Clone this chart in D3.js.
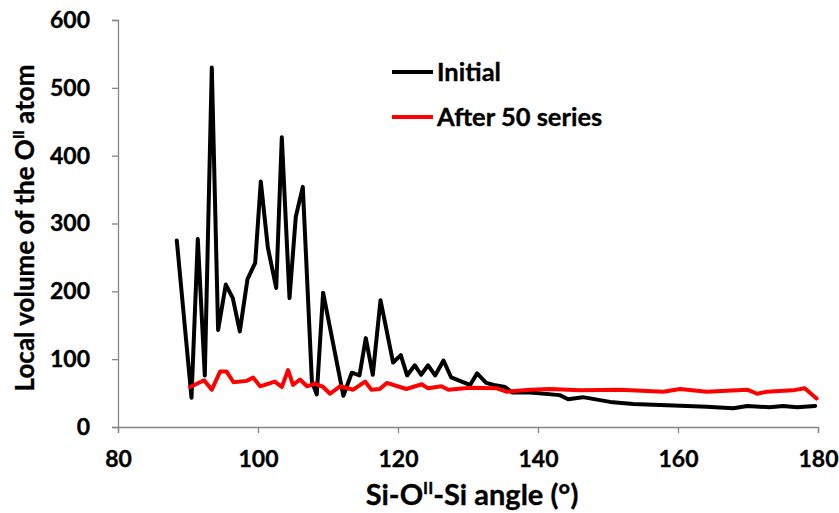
<!DOCTYPE html>
<html>
<head>
<meta charset="utf-8">
<script src="https://cdn.jsdelivr.net/npm/d3@7"></script>
<style>
  html, body { margin: 0; padding: 0; background: #fff; }
  svg text { font-family: Lato, "Open Sans", sans-serif; font-weight: bold; fill: #000; stroke: #000; stroke-width: 0.35px; }
</style>
</head>
<body>
<svg id="chart" width="839" height="513"></svg>
<script>
// Data
const initialAngle = [88.4, 90.5, 91.4, 92.4, 93.4, 94.3, 95.4, 96.4, 97.4, 98.5, 99.6, 100.4, 101.4, 102.6, 103.4, 104.5, 105.4, 106.4, 107.7, 108.4, 109.3, 112.2, 113.4, 114.5, 115.4, 116.4, 117.5, 119.3, 120.4, 121.3, 122.4, 123.3, 124.3, 125.3, 126.5, 127.6, 129.1, 130.3, 131.3, 132.6, 133.7, 135.3, 136.3, 138.9, 143.1, 144.3, 146.4, 150.3, 153.6, 158.4, 164.1, 167.9, 169.9, 173.1, 175.0, 177.0, 179.6];
const initialVolume = [275, 43, 277, 76, 530, 143, 210, 190, 141, 218, 242, 362, 265, 205, 427, 190, 310, 354, 67, 48, 198, 46, 80, 76, 131, 77, 187, 95, 106, 76, 91, 77, 91, 76, 98, 73, 67, 62, 79, 65, 62, 59, 51, 51, 47, 41, 44, 37, 34, 32, 30, 27.5, 31, 29, 31, 29, 31];

const afterAngle = [90.3, 92.3, 93.4, 94.6, 95.5, 96.5, 98.4, 99.3, 100.3, 102.4, 103.4, 104.3, 105.0, 106.0, 107.0, 108.1, 109.3, 110.3, 111.7, 113.6, 115.3, 116.2, 117.4, 118.4, 121.2, 123.4, 124.3, 126.2, 127.2, 130.3, 134.1, 135.5, 138.9, 141.7, 146.0, 151.7, 157.9, 160.3, 164.1, 169.9, 171.3, 172.7, 176.4, 178.1, 179.8];
const afterVolume = [59, 69, 55, 82, 82, 66, 68, 73, 60, 67, 59, 84, 62, 70, 60, 64, 59, 49, 60, 55, 67, 55, 56, 65, 56, 63, 57, 60, 55, 58, 57, 52, 55, 56, 54, 55, 52, 56, 52, 55, 49, 52, 54, 57, 42];

const xTicks = [80, 100, 120, 140, 160, 180];
const yTicks = [0, 100, 200, 300, 400, 500, 600];
const seriesNames = ["Initial", "After 50 series"];
const seriesColors = ["#000000", "#ff0000"];

const svg = d3.select("#chart");
const x = d3.scaleLinear().domain([80, 180]).range([118, 818]);
const y = d3.scaleLinear().domain([0, 600]).range([427, 20]);
const axisColor = "#868686";

// X axis
const gx = svg.append("g").attr("transform", `translate(0,${y(0)})`)
  .call(d3.axisBottom(x).tickValues(xTicks).tickSize(6).tickPadding(18).tickFormat(d3.format("d")));
gx.select(".domain").attr("stroke", axisColor).attr("stroke-width", 1.3);
gx.selectAll(".tick line").attr("stroke", axisColor).attr("stroke-width", 1.3);
gx.selectAll(".tick text").style("font-size", "23px").style("font-family", "Lato, sans-serif").style("font-weight", "bold").attr("fill", "#000");

// Y axis
const gy = svg.append("g").attr("transform", `translate(${x(80)},0)`)
  .call(d3.axisLeft(y).tickValues(yTicks).tickSize(6).tickPadding(22).tickFormat(d3.format("d")));
gy.select(".domain").attr("stroke", axisColor).attr("stroke-width", 1.3);
gy.selectAll(".tick line").attr("stroke", axisColor).attr("stroke-width", 1.3);
gy.selectAll(".tick text").style("font-size", "23px").style("font-family", "Lato, sans-serif").style("font-weight", "bold").attr("fill", "#000");

// Lines
const line = d3.line().x(d => x(d[0])).y(d => y(d[1]));
const initialData = initialAngle.map((a, i) => [a, initialVolume[i]]);
const afterData = afterAngle.map((a, i) => [a, afterVolume[i]]);

svg.append("path").datum(initialData).attr("d", line)
  .attr("fill", "none").attr("stroke", seriesColors[0]).attr("stroke-width", 4).attr("stroke-linejoin", "round").attr("stroke-linecap", "round");
svg.append("path").datum(afterData).attr("d", line)
  .attr("fill", "none").attr("stroke", seriesColors[1]).attr("stroke-width", 4).attr("stroke-linejoin", "round").attr("stroke-linecap", "round");

// Legend
const legend = svg.append("g");
seriesNames.forEach((name, i) => {
  const ly = 72 + i * 45;
  legend.append("line").attr("x1", 392).attr("x2", 433).attr("y1", ly).attr("y2", ly)
    .attr("stroke", seriesColors[i]).attr("stroke-width", 4);
  legend.append("text").attr("x", 437).attr("y", ly + 9).style("font-size", "25.5px").text(name);
});

// X axis title
const xt = svg.append("text").attr("x", 472).attr("y", 505).attr("text-anchor", "middle").style("font-size", "29px");
xt.append("tspan").text("Si-O");
xt.append("tspan").attr("dy", -11).style("font-size", "17px").text("II");
xt.append("tspan").attr("dy", 11).text("-Si angle (°)");

// Y axis title
const yt = svg.append("text").attr("transform", "translate(34,228) rotate(-90)").attr("text-anchor", "middle").style("font-size", "26px");
yt.append("tspan").text("Local volume of the O");
yt.append("tspan").attr("dy", -10).style("font-size", "15px").text("II");
yt.append("tspan").attr("dy", 10).text(" atom");
</script>
</body>
</html>
